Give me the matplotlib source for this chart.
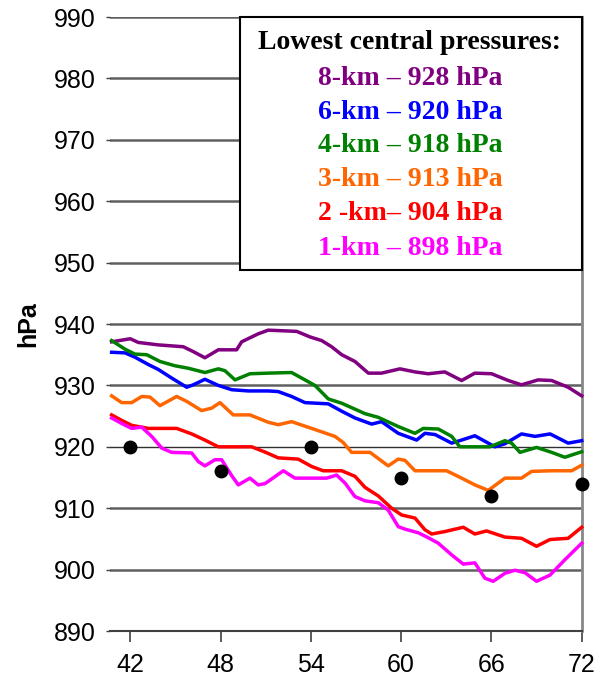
import matplotlib.pyplot as plt
import matplotlib.patches as mpatches

# forecast hour vs central pressure (hPa)
x_8km = [40.76, 42.0, 42.53, 43.86, 45.52, 46.19, 46.96, 47.85, 49.07, 49.4, 50.5, 51.17, 53.06, 53.94,
         54.72, 55.38, 56.05, 56.93, 57.82, 58.7, 59.92, 60.92, 61.8, 62.9, 64.02, 64.9, 66.01, 67.12,
         68.0, 69.11, 70.0, 71.1, 72.0]
p_8km = [937.1, 937.6, 937.0, 936.6, 936.3, 935.5, 934.5, 935.8, 935.8, 937.1, 938.4, 939.0, 938.8, 937.9,
         937.3, 936.3, 935.0, 933.9, 932.0, 932.0, 932.7, 932.2, 931.9, 932.2, 930.8, 932.0, 931.9, 930.8,
         930.1, 930.9, 930.8, 929.7, 928.3]

x_6km = [40.76, 41.65, 42.31, 43.2, 43.86, 44.75, 45.75, 46.19, 46.96, 47.85, 48.74, 49.84, 51.17, 51.83,
         52.72, 53.61, 55.16, 56.05, 56.93, 58.04, 58.7, 59.81, 61.03, 61.58, 62.25, 63.36, 64.02, 64.9,
         65.57, 66.23, 66.9, 68.0, 68.9, 69.9, 71.1, 72.0]
p_6km = [935.4, 935.3, 934.6, 933.4, 932.6, 931.2, 929.7, 930.1, 931.0, 930.0, 929.3, 929.1, 929.1, 929.0,
         928.2, 927.2, 927.0, 925.8, 924.7, 923.7, 924.1, 922.2, 921.1, 922.2, 922.0, 920.6, 921.1, 921.8,
         920.9, 920.0, 920.5, 922.1, 921.7, 922.1, 920.6, 921.0]

x_4km = [40.76, 41.65, 42.31, 43.09, 43.97, 44.97, 45.85, 46.96, 47.85, 48.29, 48.96, 49.95, 51.17, 52.72,
         53.61, 54.27, 55.16, 56.05, 57.6, 58.48, 59.81, 60.92, 61.47, 62.47, 63.36, 63.9, 65.9, 66.9,
         67.34, 67.9, 69.0, 70.0, 70.88, 72.0]
p_4km = [937.3, 935.9, 935.1, 935.0, 933.9, 933.2, 932.8, 932.1, 932.7, 932.4, 930.9, 931.9, 932.0, 932.1,
         930.9, 930.0, 927.8, 927.1, 925.4, 924.8, 923.3, 922.2, 923.0, 922.9, 921.7, 920.0, 920.0, 921.0,
         920.6, 919.1, 919.9, 919.1, 918.3, 919.2]

x_3km = [40.76, 41.43, 42.09, 42.76, 43.31, 43.97, 45.08, 45.75, 46.74, 47.41, 47.96, 48.84, 49.95, 51.17,
         51.83, 52.72, 54.05, 55.6, 56.15, 56.71, 57.93, 58.48, 59.14, 59.81, 60.25, 60.92, 61.8, 63.02,
         64.02, 64.9, 65.79, 66.9, 68.0, 68.67, 70.0, 71.33, 72.0]
p_3km = [928.3, 927.2, 927.2, 928.2, 928.1, 926.7, 928.2, 927.4, 925.9, 926.3, 927.2, 925.2, 925.2, 924.0,
         923.6, 924.1, 923.0, 921.7, 920.7, 919.1, 919.1, 918.1, 916.9, 918.0, 917.8, 916.1, 916.1, 916.1,
         914.9, 913.8, 912.9, 914.9, 914.9, 916.0, 916.1, 916.1, 917.0]

x_2km = [40.76, 41.43, 42.09, 43.2, 45.08, 46.08, 46.96, 47.85, 50.07, 51.0, 51.83, 53.16, 54.05, 54.82,
         56.05, 56.93, 57.6, 58.48, 59.37, 60.03, 60.92, 61.58, 62.03, 62.91, 64.13, 64.9, 65.68, 66.9,
         68.0, 69.0, 69.89, 71.1, 72.0]
p_2km = [925.2, 924.3, 923.5, 923.0, 923.0, 922.1, 921.1, 920.0, 920.0, 919.1, 918.2, 918.0, 916.8, 916.1,
         916.1, 915.2, 913.4, 912.0, 910.0, 908.9, 908.4, 906.5, 905.8, 906.2, 906.9, 905.8, 906.3, 905.3,
         905.1, 903.8, 904.9, 905.1, 906.9]

x_1km = [40.76, 41.43, 42.09, 42.76, 43.42, 44.09, 44.75, 46.08, 46.52, 46.96, 47.63, 48.07, 48.74, 49.18,
         49.95, 50.5, 50.95, 52.17, 52.94, 55.05, 55.71, 56.27, 56.93, 57.6, 58.48, 59.14, 59.81, 60.25,
         61.14, 61.8, 62.47, 63.36, 64.13, 64.9, 65.57, 66.12, 66.9, 67.56, 68.23, 69.0, 69.89, 70.88, 72.0]
p_1km = [924.7, 923.8, 923.0, 923.2, 921.7, 919.8, 919.1, 919.0, 917.6, 916.9, 917.9, 917.9, 915.3, 913.8,
         914.9, 913.8, 914.0, 916.1, 914.9, 914.9, 915.4, 914.1, 911.9, 911.2, 910.9, 909.7, 907.0, 906.6,
         906.0, 905.2, 904.3, 902.4, 900.9, 901.1, 898.6, 898.1, 899.4, 899.9, 899.5, 898.1, 899.1, 901.6, 904.3]

obs_x = [42, 48, 54, 60, 66, 72]
obs_p = [920, 916, 920, 915, 912, 914]

legend_title = "Lowest central pressures:"
legend_lines = ["8-km \u2013 928 hPa", "6-km \u2013 920 hPa", "4-km \u2013 918 hPa",
                "3-km \u2013 913 hPa", "2 -km\u2013 904 hPa", "1-km \u2013 898 hPa"]
colors = ["#800080", "#0000ff", "#008000", "#ff6600", "#ff0000", "#ff00ff"]

xticks = [42, 48, 54, 60, 66, 72]
yticks = list(range(890, 1000, 10))

fig = plt.figure(figsize=(5.99, 6.83), dpi=100)
ax = fig.add_axes([0.1836, 0.0761, 0.7875, 0.8990])

for yt in yticks[1:]:
    if yt == 920:
        ax.axhline(yt, color="#303030", lw=1.0, zorder=1)
    else:
        ax.axhline(yt, color="#606060", lw=1.8, zorder=1)

series = [(x_8km, p_8km), (x_6km, p_6km), (x_4km, p_4km),
          (x_3km, p_3km), (x_2km, p_2km), (x_1km, p_1km)]
for (xs, ps), c in zip(series, colors):
    ax.plot(xs, ps, color=c, lw=2.5, zorder=3, clip_on=False)

ax.plot(obs_x, obs_p, "o", color="black", ms=9, zorder=5, clip_on=False)

ax.set_xlim(40.65, 72)
ax.set_ylim(890, 990)
ax.set_xticks(xticks)
ax.set_yticks(yticks)
ax.tick_params(axis="x", direction="out", length=8, width=1.2, color="#404040",
               labelsize=18, pad=8)
ax.tick_params(axis="y", direction="out", length=3, width=1, color="#404040",
               labelsize=18, pad=7)
for lab in ax.get_xticklabels() + ax.get_yticklabels():
    lab.set_fontfamily("Liberation Sans")

ax.spines["top"].set_visible(False)
ax.spines["left"].set_visible(False)
ax.spines["right"].set_color("#888888")
ax.spines["right"].set_linewidth(2)
ax.spines["bottom"].set_color("#404040")
ax.spines["bottom"].set_linewidth(1.5)

ax.set_ylabel("hPa", fontsize=18, fontweight="bold", fontfamily="Liberation Sans", labelpad=10)

# legend box with coloured text
box = mpatches.Rectangle((0.2756, 0.588), 0.7244, 0.412, transform=ax.transAxes,
                         facecolor="white", edgecolor="black", lw=1.5, zorder=6, clip_on=False)
ax.add_patch(box)
cx = 0.636
ax.text(cx, (631 - 42) / 614, legend_title, transform=ax.transAxes, ha="center", va="center",
        fontsize=20, fontweight="bold", fontfamily="Liberation Serif", zorder=7)
ys = [78, 112, 145, 179, 213, 248]
for t, c, yp in zip(legend_lines, colors, ys):
    ax.text(cx, (631 - yp) / 614, t, transform=ax.transAxes, ha="center", va="center",
            fontsize=20, fontweight="bold", fontfamily="Liberation Serif", color=c, zorder=7)

fig.savefig("out.png", dpi=100)
